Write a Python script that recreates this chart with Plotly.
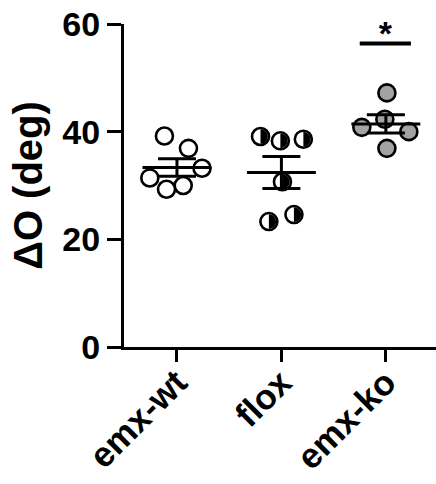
import numpy as np
import plotly.graph_objects as go

categories = ["emx-wt", "flox", "emx-ko"]

# individual values (deg)
wt_values = [39.2, 36.9, 33.2, 31.4, 29.3, 30.0]
flox_values = [39.1, 38.3, 38.6, 30.7, 23.3, 24.6]
ko_values = [47.2, 42.3, 40.8, 40.0, 36.9]

# horizontal scatter of the dots within each column (category units)
wt_jitter = [-0.12, 0.11, 0.24, -0.26, -0.10, 0.06]
flox_jitter = [-0.20, -0.01, 0.21, 0.01, -0.12, 0.12]
ko_jitter = [0.01, -0.01, -0.23, 0.22, 0.01]

y_ticks = [0, 20, 40, 60]

# significance marker over emx-ko
sig_span = [1.75, 2.24]
sig_level = 56.4
sig_label = "*"
sig_label_level = 57.7

FONT = "Liberation Sans, Arial, sans-serif"
groups = [
    (wt_values, wt_jitter, "white"),
    (flox_values, flox_jitter, "white"),
    (ko_values, ko_jitter, "#a3a3a3"),
]

# right half of a disc (pixel units, relative to the dot centre)
R_HALF = 7.2
theta = np.linspace(-np.pi / 2, np.pi / 2, 25)
half_path = "M " + " L ".join(f"{R_HALF*np.cos(t):.2f},{R_HALF*np.sin(t):.2f}" for t in theta) + " Z"

fig = go.Figure()
shapes = []
for i, (vals, jit, fill) in enumerate(groups):
    xs = [i + j for j in jit]
    fig.add_trace(go.Scatter(
        x=xs, y=vals, mode="markers",
        marker=dict(symbol="circle", size=17, color=fill,
                    line=dict(color="black", width=2.6)),
        showlegend=False, hoverinfo="skip", cliponaxis=False))
    if i == 1:
        for xv, yv in zip(xs, vals):
            shapes.append(dict(type="path", xref="x", yref="y", xsizemode="pixel",
                               ysizemode="pixel", xanchor=xv, yanchor=yv,
                               path=half_path, fillcolor="black",
                               line=dict(width=0), layer="above"))

for i, (vals, jit, fill) in enumerate(groups):
    arr = np.array(vals)
    mean = arr.mean()
    sem = arr.std(ddof=1) / np.sqrt(len(arr))
    fig.add_trace(go.Scatter(
        x=[i - 0.33, i + 0.33], y=[mean, mean], mode="lines",
        line=dict(color="black", width=3), showlegend=False, hoverinfo="skip"))
    fig.add_trace(go.Scatter(
        x=[i], y=[mean], mode="markers", marker=dict(size=1, color="rgba(0,0,0,0)"),
        error_y=dict(type="constant", value=sem, color="black", thickness=3, width=19),
        showlegend=False, hoverinfo="skip"))

fig.add_trace(go.Scatter(
    x=sig_span, y=[sig_level, sig_level], mode="lines",
    line=dict(color="black", width=4), showlegend=False, hoverinfo="skip"))
fig.add_trace(go.Scatter(
    x=[np.mean(sig_span)], y=[sig_label_level], mode="text", text=[sig_label],
    textposition="middle center", cliponaxis=False,
    textfont=dict(family=FONT, size=34, color="black", weight="bold"),
    showlegend=False, hoverinfo="skip"))

fig.update_layout(
    width=436, height=484,
    margin=dict(l=124, r=0, t=24, b=137),
    paper_bgcolor="white", plot_bgcolor="white",
    shapes=shapes,
    font=dict(family=FONT, color="black"),
)
fig.update_xaxes(
    range=[-0.507, 2.48], tickmode="array", tickvals=[0, 1, 2], ticktext=categories,
    tickangle=-45, tickfont=dict(family=FONT, size=35, color="black", weight="bold"),
    showline=True, linecolor="black", linewidth=3, ticks="outside", ticklen=12,
    tickwidth=3, tickcolor="black", showgrid=False, zeroline=False, automargin=False,
    ticklabelstandoff=-14, ticklabeloverflow="allow")
fig.update_yaxes(
    range=[0, 60], tickvals=y_ticks, ticktext=[str(t) for t in y_ticks],
    tickfont=dict(family=FONT, size=34, color="black", weight="bold"),
    showline=True, linecolor="black", linewidth=3, ticks="outside", ticklen=14,
    tickwidth=3, tickcolor="black", showgrid=False, zeroline=False, automargin=False,
    ticklabeloverflow="allow",
    title=dict(text="ΔO (deg)", font=dict(family=FONT, size=40, color="black", weight="bold"),
               standoff=8))

# remove the browser's default body margin so the figure fills the window exactly
fig.write_html("out.html", config={"displayModeBar": False},
               post_script="document.body.style.margin='0';")
